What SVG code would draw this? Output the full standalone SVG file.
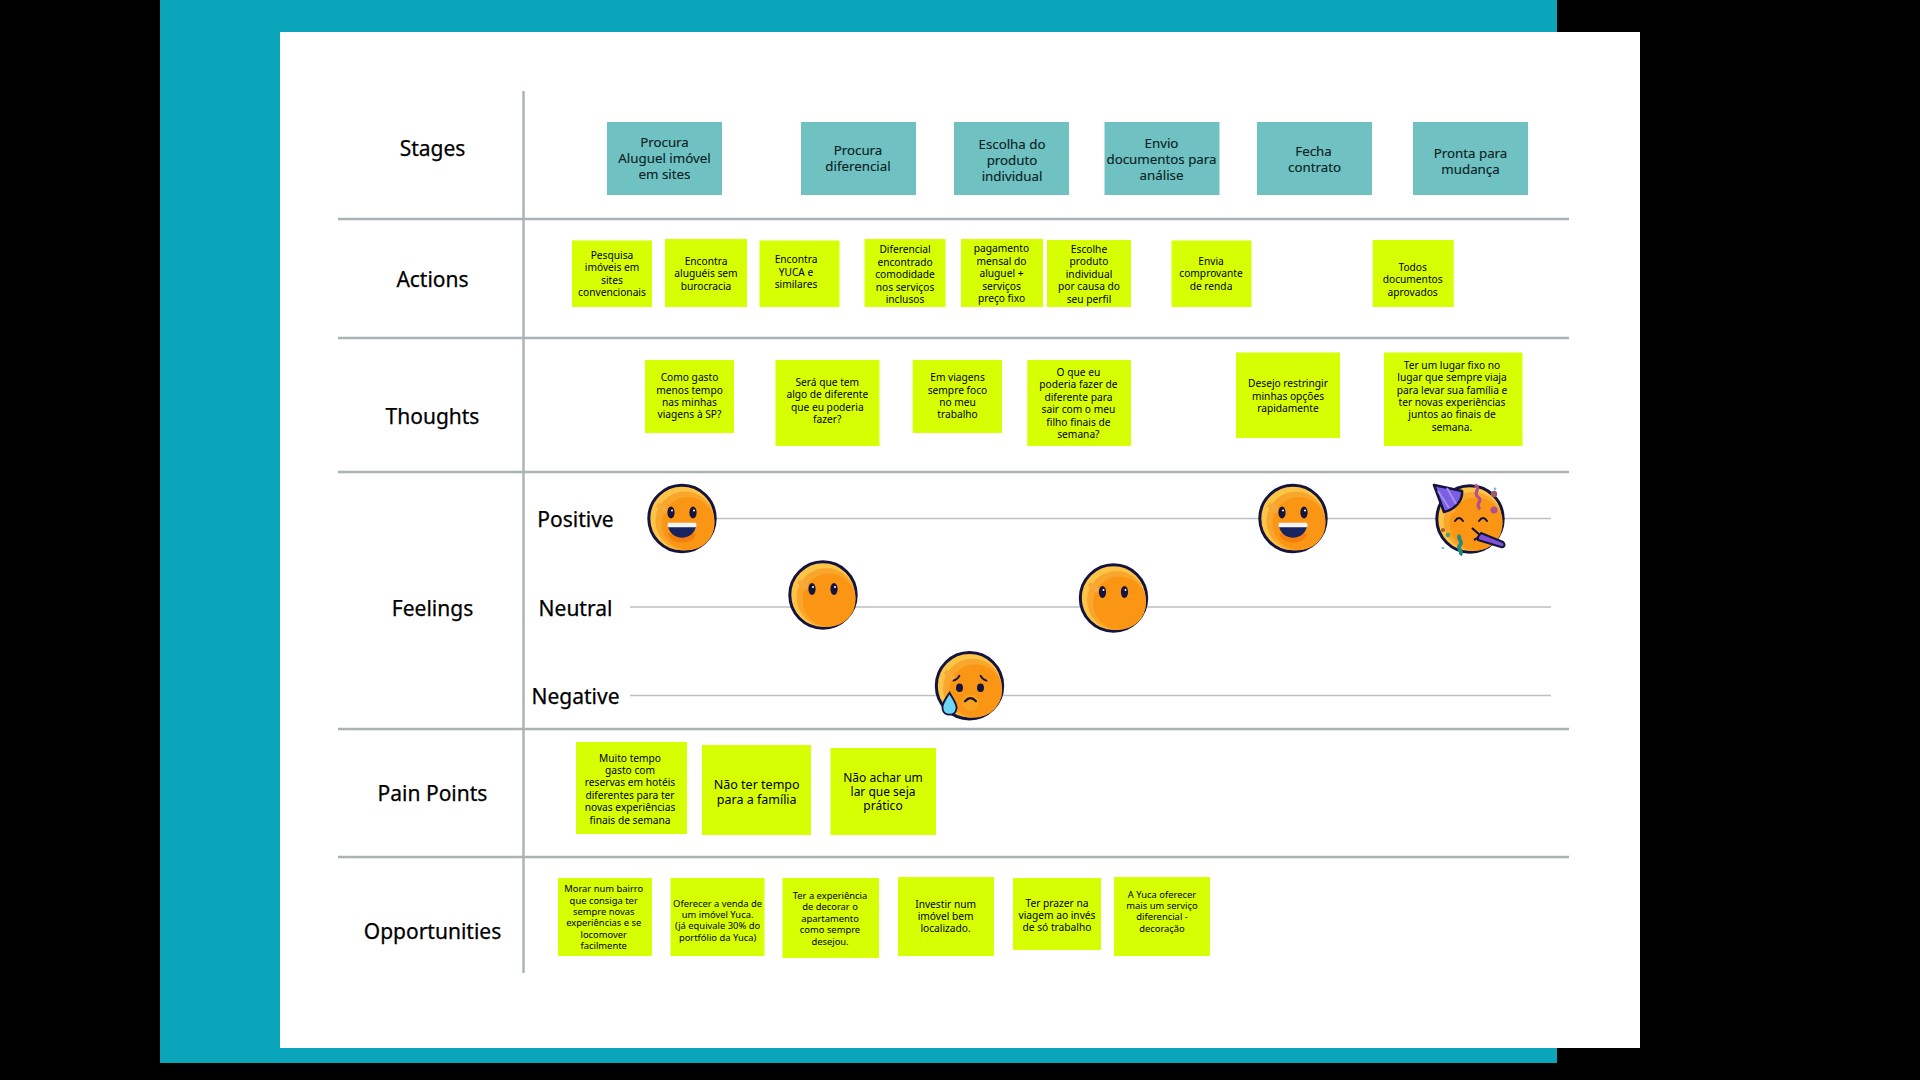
<svg xmlns="http://www.w3.org/2000/svg" xmlns:xlink="http://www.w3.org/1999/xlink" width="1920" height="1080" viewBox="0 0 1920 1080">
<style>
text{font-family:"Noto Sans","Open Sans","Liberation Sans",sans-serif;fill:#000;text-anchor:middle;dominant-baseline:central}
.row{font-size:21px;font-weight:400;stroke:#000;stroke-width:.25px}
.st{font-size:13.300px;fill:#0b2226;font-weight:400;stroke:#0b2226;stroke-width:.15px}
.n{font-size:10.200px;font-weight:400}
.o{font-size:9.400px;font-weight:400}
.stage{fill:#70c2c2}
.note{fill:#d7ff04}
.g{stroke:#a9b2b4;stroke-width:2.400;fill:none}
.f{stroke:#bcc0c6;stroke-width:1.500;fill:none}
.d{fill:#14143f}
</style>
<defs>
<g id="face">
<circle r="33.200" fill="#fdc548" stroke="#14143f" stroke-width="3"/>
<circle cx="3" cy="2.500" r="29.500" fill="#f9a62c"/>
<circle cx="6" cy="5" r="26.500" fill="#fb9614"/>
<path d="M-23 -16 L-14 -9 L-17 -5 L-26 -12Z" fill="#f7a93a"/>
</g>
<g id="eyes">
<ellipse cx="-11" cy="-6" rx="3.600" ry="6" class="d"/><ellipse cx="11" cy="-6" rx="3.600" ry="6" class="d"/>
<circle cx="-10" cy="-8" r="1" fill="#fff"/><circle cx="12" cy="-8" r="1" fill="#fff"/>
</g>
<g id="happy">
<use href="#face"/><use href="#eyes"/>
<path d="M-14 11 H14 C12 23 -12 23 -14 11Z" fill="#f47f0c" transform="translate(0 4)"/>
<path d="M-14.500 5 H14.500 C13 24 -13 24 -14.500 5Z" fill="#17245f"/>
<rect x="-14.500" y="4.200" width="29" height="4.600" rx="1" fill="#f3f4f6"/>
</g>
</defs>
<rect width="1920" height="1080" fill="#000"/>
<rect x="160" y="0" width="1397" height="1063" fill="#0aa5ba"/>
<rect x="280" y="32" width="1360" height="1016" fill="#fff"/>
<g id="grid">
<path class="g" d="M523.500 91V973M338 219H1569M338 338H1569M338 472H1569M338 729H1569M338 857H1569"/>
<path class="f" d="M690 518.500H1551M630 607H1551M630 695.500H1551"/>
</g>
<g id="row-labels">
<text class="row" x="432.500" y="147.500">Stages</text>
<text class="row" x="432.500" y="278.500">Actions</text>
<text class="row" x="432.500" y="415.500">Thoughts</text>
<text class="row" x="432.500" y="607.500">Feelings</text>
<text class="row" x="432.500" y="792.500">Pain Points</text>
<text class="row" x="432.500" y="930.500">Opportunities</text>
<text class="row" x="575.500" y="518.500">Positive</text>
<text class="row" x="575.500" y="607.500">Neutral</text>
<text class="row" x="575.500" y="695.500">Negative</text>
</g>
<g id="stage-1"><rect class="stage" x="607" y="122" width="115" height="73"/><text class="st" x="664.500" y="142">Procura</text><text class="st" x="664.500" y="158">Aluguel imóvel</text><text class="st" x="664.500" y="174">em sites</text></g>
<g id="stage-2"><rect class="stage" x="801" y="122" width="115" height="73"/><text class="st" x="858" y="150">Procura</text><text class="st" x="858" y="166">diferencial</text></g>
<g id="stage-3"><rect class="stage" x="954" y="122" width="115" height="73"/><text class="st" x="1012" y="144">Escolha do</text><text class="st" x="1012" y="160">produto</text><text class="st" x="1012" y="176">individual</text></g>
<g id="stage-4"><rect class="stage" x="1104.500" y="122" width="115" height="73"/><text class="st" x="1161.500" y="143">Envio</text><text class="st" x="1161.500" y="159">documentos para</text><text class="st" x="1161.500" y="175">análise</text></g>
<g id="stage-5"><rect class="stage" x="1257" y="122" width="115" height="73"/><text class="st" x="1313.500" y="151">Fecha</text><text class="st" x="1314.500" y="167">contrato</text></g>
<g id="stage-6"><rect class="stage" x="1413" y="122" width="115" height="73"/><text class="st" x="1470.500" y="153">Pronta para</text><text class="st" x="1470.500" y="169">mudança</text></g>

<g id="action-1"><rect class="note" x="572" y="240.500" width="80" height="66.500"/><text class="n" x="612" y="255">Pesquisa</text><text class="n" x="612" y="267">imóveis em</text><text class="n" x="612" y="280">sites</text><text class="n" x="612" y="292">convencionais</text></g>
<g id="action-2"><rect class="note" x="665" y="239" width="82" height="68"/><text class="n" x="706" y="260.700">Encontra</text><text class="n" x="706" y="273">aluguéis sem</text><text class="n" x="706" y="285.700">burocracia</text></g>
<g id="action-3"><rect class="note" x="759.500" y="240.500" width="80" height="66.500"/><text class="n" x="796" y="259">Encontra</text><text class="n" x="796" y="271.700">YUCA e</text><text class="n" x="796" y="284">similares</text></g>
<g id="action-4"><rect class="note" x="864.500" y="239" width="81" height="68"/><text class="n" x="905" y="248.700">Diferencial</text><text class="n" x="905" y="261.700">encontrado</text><text class="n" x="905" y="274">comodidade</text><text class="n" x="905" y="286.700">nos serviços</text><text class="n" x="905" y="299">inclusos</text></g>
<g id="action-5"><rect class="note" x="961" y="239" width="82" height="68"/><text class="n" x="1001.500" y="248">pagamento</text><text class="n" x="1001.500" y="260.700">mensal do</text><text class="n" x="1001.500" y="273">aluguel +</text><text class="n" x="1001.500" y="285.700">serviços</text><text class="n" x="1001.500" y="298">preço fixo</text></g>
<g id="action-6"><rect class="note" x="1047" y="240" width="84" height="67"/><text class="n" x="1089" y="248.700">Escolhe</text><text class="n" x="1089" y="261">produto</text><text class="n" x="1089" y="273.700">individual</text><text class="n" x="1089" y="286">por causa do</text><text class="n" x="1089" y="298.700">seu perfil</text></g>
<g id="action-7"><rect class="note" x="1171.500" y="240.500" width="80" height="66.500"/><text class="n" x="1211" y="260.700">Envia</text><text class="n" x="1211" y="273">comprovante</text><text class="n" x="1211" y="285.700">de renda</text></g>
<g id="action-8"><rect class="note" x="1372.700" y="240" width="81" height="67"/><text class="n" x="1412.700" y="266.700">Todos</text><text class="n" x="1412.700" y="279">documentos</text><text class="n" x="1412.700" y="291.700">aprovados</text></g>

<g id="thought-1"><rect class="note" x="645" y="360" width="89" height="73"/><text class="n" x="689.500" y="376.700">Como gasto</text><text class="n" x="689.500" y="389.700">menos tempo</text><text class="n" x="689.500" y="402">nas minhas</text><text class="n" x="689.500" y="414">viagens à SP?</text></g>
<g id="thought-2"><rect class="note" x="775.500" y="360" width="104" height="86"/><text class="n" x="827.300" y="382">Será que tem</text><text class="n" x="827.300" y="394">algo de diferente</text><text class="n" x="827.300" y="407">que eu poderia</text><text class="n" x="827.300" y="419">fazer?</text></g>
<g id="thought-3"><rect class="note" x="912.700" y="360" width="89.300" height="73"/><text class="n" x="957.500" y="376.700">Em viagens</text><text class="n" x="957.500" y="389.700">sempre foco</text><text class="n" x="957.500" y="402">no meu</text><text class="n" x="957.500" y="414">trabalho</text></g>
<g id="thought-4"><rect class="note" x="1027.300" y="360" width="103.700" height="86"/><text class="n" x="1078.400" y="371.700">O que eu</text><text class="n" x="1078.400" y="384">poderia fazer de</text><text class="n" x="1078.400" y="396.700">diferente para</text><text class="n" x="1078.400" y="409">sair com o meu</text><text class="n" x="1078.400" y="421.700">filho finais de</text><text class="n" x="1078.400" y="433.700">semana?</text></g>
<g id="thought-5"><rect class="note" x="1236" y="352.500" width="104" height="85.500"/><text class="n" x="1288" y="383">Desejo restringir</text><text class="n" x="1288" y="395.700">minhas opções</text><text class="n" x="1288" y="408">rapidamente</text></g>
<g id="thought-6"><rect class="note" x="1384" y="352.500" width="138.500" height="93.500"/><text class="n" x="1452" y="365">Ter um lugar fixo no</text><text class="n" x="1452" y="377">lugar que sempre viaja</text><text class="n" x="1452" y="389.700">para levar sua família e</text><text class="n" x="1452" y="402">ter novas experiências</text><text class="n" x="1452" y="414">juntos ao finais de</text><text class="n" x="1452" y="426.700">semana.</text></g>

<g id="emoji-positive-1"><use href="#happy" x="682" y="518.500"/></g>
<g id="emoji-neutral-1"><use href="#face" x="823" y="595"/><use href="#eyes" x="823" y="595"/></g>
<g id="emoji-neutral-2"><use href="#face" x="1113.500" y="598"/><use href="#eyes" x="1113.500" y="598"/></g>
<g id="emoji-positive-2"><use href="#happy" x="1293" y="518.500"/></g>
<g id="emoji-negative" transform="translate(969.500 685.700)">
<use href="#face"/>
<circle cx="1" cy="17" r="8" fill="#f7a31f"/>
<ellipse cx="-10" cy="2" rx="3.500" ry="4.300" class="d"/><ellipse cx="11" cy="2" rx="3.500" ry="4.300" class="d"/>
<path d="M-16 -5 Q-12 -6 -10 -10M17 -5 Q13 -6 11 -10" fill="none" stroke="#14143f" stroke-width="1.800" stroke-linecap="round"/>
<path d="M-4.500 15.500 Q1 9.500 6.500 15.500" fill="none" stroke="#14143f" stroke-width="2.300" stroke-linecap="round"/>
<path d="M-20 7 C-25 15 -28 19 -27 23 C-26 31 -14 31 -13 23 C-12 19 -16 14 -20 7Z" fill="#70d6f5" stroke="#14143f" stroke-width="1.800"/>
</g>
<g id="emoji-party" transform="translate(1470 519)">
<use href="#face"/>
<path d="M-15 2 Q-11 -4 -7 2M9 2 Q13 -4 17 2" fill="none" stroke="#14143f" stroke-width="2" stroke-linecap="round"/>
<path d="M-36 -34 L-8 -28 C-7 -18 -16 -9 -26 -7Z" fill="#7a5fe3" stroke="#14143f" stroke-width="2.600" stroke-linejoin="round"/>
<path d="M-32 -28 L-21 -11M-23 -31 L-14 -15" stroke="#a98bf2" stroke-width="2" fill="none"/>
<path d="M5 -34 C12 -30 2 -26 8 -22 C14 -18 4 -16 10 -10" fill="none" stroke="#b34f8e" stroke-width="3.200"/>
<circle cx="24" cy="-25" r="3.200" fill="#9c5a6f"/><circle cx="24" cy="-9" r="3.500" fill="#b34f8e"/><circle cx="25" cy="-30" r="1.400" fill="#6fc5d8"/>
<circle cx="-27" cy="11" r="2" fill="#b3562e"/><circle cx="-22" cy="16" r="2.300" fill="#4f9e6b"/><circle cx="-27" cy="29" r="1.300" fill="#6fc5d8"/>
<path d="M-10 16 C-14 20 -6 22 -10 26 C-14 30 -6 32 -10 36" fill="none" stroke="#218a80" stroke-width="3.800"/>
<path d="M2 9 L11 17 L4 21" fill="none" stroke="#14143f" stroke-width="2.200" stroke-linejoin="round"/>
<path d="M8 18 L11 14 L33 23 C36 26 34 29 31 28 L8 21Z" fill="#7d52d6" stroke="#14143f" stroke-width="2" stroke-linejoin="round"/>
</g>

<g id="pain-1"><rect class="note" x="576" y="742" width="111" height="92"/><text class="n" x="630" y="757.700">Muito tempo</text><text class="n" x="630" y="770">gasto com</text><text class="n" x="630" y="782">reservas em hotéis</text><text class="n" x="630" y="794.700">diferentes para ter</text><text class="n" x="630" y="807">novas experiências</text><text class="n" x="630" y="819.700">finais de semana</text></g>
<g id="pain-2"><rect class="note" x="702" y="745" width="109" height="90"/><text class="n" style="font-size:12.500px" x="756.700" y="784.300">Não ter tempo</text><text class="n" style="font-size:12.500px" x="756.700" y="799.300">para a família</text></g>
<g id="pain-3"><rect class="note" x="830.500" y="748" width="105.500" height="87"/><text class="n" style="font-size:12px" x="883" y="777.300">Não achar um</text><text class="n" style="font-size:12px" x="883" y="791.700">lar que seja</text><text class="n" style="font-size:12px" x="883" y="805.700">prático</text></g>

<g id="opportunity-1"><rect class="note" x="558" y="878" width="94" height="78"/><text class="o" x="603.700" y="888">Morar num bairro</text><text class="o" x="603.700" y="900">que consiga ter</text><text class="o" x="603.700" y="911.300">sempre novas</text><text class="o" x="603.700" y="922.300">experiências e se</text><text class="o" x="603.700" y="934">locomover</text><text class="o" x="603.700" y="945">facilmente</text></g>
<g id="opportunity-2"><rect class="note" x="670.500" y="878" width="94" height="78"/><text class="o" x="717.600" y="903">Oferecer a venda de</text><text class="o" x="717.600" y="914.300">um imóvel Yuca.</text><text class="o" x="717.600" y="925.300">(já equivale 30% do</text><text class="o" x="717.600" y="937">portfólio da Yuca)</text></g>
<g id="opportunity-3"><rect class="note" x="782.500" y="878" width="96.500" height="80"/><text class="o" x="830" y="895">Ter a experiência</text><text class="o" x="830" y="906">de decorar o</text><text class="o" x="830" y="918">apartamento</text><text class="o" x="830" y="929.300">como sempre</text><text class="o" x="830" y="941.300">desejou.</text></g>
<g id="opportunity-4"><rect class="note" x="898" y="877" width="96" height="79"/><text class="n" x="945.600" y="903.700">Investir num</text><text class="n" x="945.600" y="916">imóvel bem</text><text class="n" x="945.600" y="928">localizado.</text></g>
<g id="opportunity-5"><rect class="note" x="1013" y="878" width="88" height="72"/><text class="n" x="1057" y="902.500">Ter prazer na</text><text class="n" x="1057" y="914.700">viagem ao invés</text><text class="n" x="1057" y="927">de só trabalho</text></g>
<g id="opportunity-6"><rect class="note" x="1114" y="877" width="96" height="79"/><text class="o" x="1162" y="894">A Yuca oferecer</text><text class="o" x="1162" y="905">mais um serviço</text><text class="o" x="1162" y="916">diferencial -</text><text class="o" x="1162" y="928">decoração</text></g>
</svg>
